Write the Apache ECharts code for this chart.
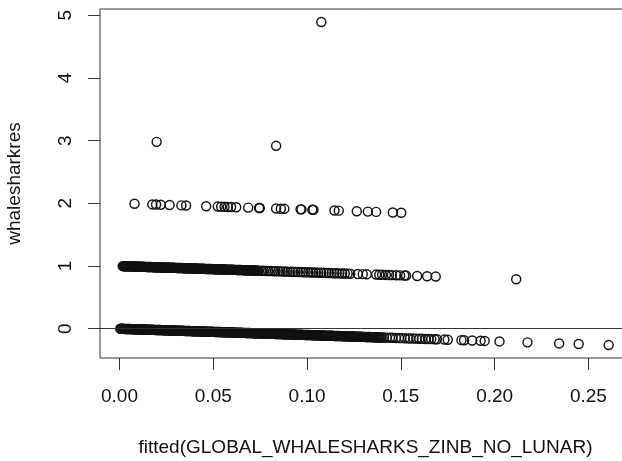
<!DOCTYPE html>
<html><head><meta charset="utf-8">
<script src="https://cdn.jsdelivr.net/npm/echarts@6/dist/echarts.min.js"></script>
<style>html,body{margin:0;padding:0;background:#fff}#c{width:622px;height:461px}</style>
</head><body><div id="c"></div>
<script>
// observed = 0
const zeroFitted=[0.0004,0.0011,0.0018,0.0026,0.0033,0.0041,0.0049,0.0057,0.0064,0.0072,0.0081,0.0089,0.0098,0.0106,0.0115,0.0123,0.0132,0.0140,0.0149,0.0157,0.0166,0.0175,0.0183,0.0192,0.0201,0.0210,0.0218,0.0227,0.0236,0.0245,0.0254,0.0262,0.0271,0.0280,0.0289,0.0298,0.0307,0.0316,0.0325,0.0334,0.0343,0.0352,0.0361,0.0370,0.0380,0.0389,0.0398,0.0407,0.0416,0.0426,0.0435,0.0444,0.0454,0.0463,0.0472,0.0482,0.0491,0.0501,0.0510,0.0520,0.0529,0.0539,0.0548,0.0558,0.0567,0.0577,0.0587,0.0596,0.0606,0.0616,0.0625,0.0635,0.0645,0.0655,0.0664,0.0674,0.0684,0.0694,0.0704,0.0714,0.0724,0.0733,0.0743,0.0753,0.0763,0.0773,0.0783,0.0793,0.0804,0.0814,0.0824,0.0834,0.0844,0.0854,0.0864,0.0875,0.0885,0.0895,0.0905,0.0916,0.0926,0.0936,0.0947,0.0957,0.0967,0.0978,0.0988,0.0999,0.1009,0.1020,0.1030,0.1041,0.1051,0.1062,0.1072,0.1083,0.1093,0.1104,0.1115,0.1125,0.1136,0.1147,0.1157,0.1168,0.1179,0.1190,0.1200,0.1211,0.1222,0.1233,0.1244,0.1255,0.1265,0.1276,0.1287,0.1298,0.1309,0.1320,0.1331,0.1342,0.1353,0.1364,0.1375,0.1386,0.1397,
0.1410,0.1425,0.1442,0.1455,0.1473,0.1490,0.1502,0.1521,0.1538,0.1549,0.1567,0.1583,0.1598,0.1612,0.1631,0.1648,0.1662,0.1680,0.1693,
0.1732,0.1750,0.1823,0.1837,0.1880,0.1925,0.1947,0.2026,0.2175,0.2344,0.2448,0.2608];
const zeroResid=[-0.0004,-0.0011,-0.0018,-0.0026,-0.0033,-0.0041,-0.0049,-0.0057,-0.0064,-0.0072,-0.0081,-0.0089,-0.0098,-0.0106,-0.0115,-0.0123,-0.0132,-0.0140,-0.0149,-0.0157,-0.0166,-0.0175,-0.0183,-0.0192,-0.0201,-0.0210,-0.0218,-0.0227,-0.0236,-0.0245,-0.0254,-0.0262,-0.0271,-0.0280,-0.0289,-0.0298,-0.0307,-0.0316,-0.0325,-0.0334,-0.0343,-0.0352,-0.0361,-0.0370,-0.0380,-0.0389,-0.0398,-0.0407,-0.0416,-0.0426,-0.0435,-0.0444,-0.0454,-0.0463,-0.0472,-0.0482,-0.0491,-0.0501,-0.0510,-0.0520,-0.0529,-0.0539,-0.0548,-0.0558,-0.0567,-0.0577,-0.0587,-0.0596,-0.0606,-0.0616,-0.0625,-0.0635,-0.0645,-0.0655,-0.0664,-0.0674,-0.0684,-0.0694,-0.0704,-0.0714,-0.0724,-0.0733,-0.0743,-0.0753,-0.0763,-0.0773,-0.0783,-0.0793,-0.0804,-0.0814,-0.0824,-0.0834,-0.0844,-0.0854,-0.0864,-0.0875,-0.0885,-0.0895,-0.0905,-0.0916,-0.0926,-0.0936,-0.0947,-0.0957,-0.0967,-0.0978,-0.0988,-0.0999,-0.1009,-0.1020,-0.1030,-0.1041,-0.1051,-0.1062,-0.1072,-0.1083,-0.1093,-0.1104,-0.1115,-0.1125,-0.1136,-0.1147,-0.1157,-0.1168,-0.1179,-0.1190,-0.1200,-0.1211,-0.1222,-0.1233,-0.1244,-0.1255,-0.1265,-0.1276,-0.1287,-0.1298,-0.1309,-0.1320,-0.1331,-0.1342,-0.1353,-0.1364,-0.1375,-0.1386,-0.1397,
-0.1410,-0.1425,-0.1442,-0.1455,-0.1473,-0.1490,-0.1502,-0.1521,-0.1538,-0.1549,-0.1567,-0.1583,-0.1598,-0.1612,-0.1631,-0.1648,-0.1662,-0.1680,-0.1693,
-0.1732,-0.1750,-0.1823,-0.1837,-0.1880,-0.1925,-0.1947,-0.2026,-0.2175,-0.2344,-0.2448,-0.2608];
// further observed = 0 points packed into the dense part of the band
const zeroFittedB=[0.0008,0.0015,0.0022,0.0030,0.0037,0.0045,0.0053,0.0061,0.0068,0.0077,0.0085,0.0094,0.0102,0.0111,0.0119,0.0128,0.0136,0.0145,0.0153,0.0162,0.0171,0.0179,0.0188,0.0197,0.0206,0.0214,0.0223,0.0232,0.0241,0.0250,0.0258,0.0267,0.0276,0.0285,0.0294,0.0303,0.0312,0.0321,0.0330,0.0339,0.0348,0.0357,0.0366,0.0375,0.0385,0.0394,0.0403,0.0412,0.0421,0.0431,0.0440,0.0449,0.0459,0.0468,0.0477,0.0487,0.0496,0.0506,0.0515,0.0525,0.0534,0.0544,0.0553,0.0563,0.0572,0.0582,0.0592,0.0601,0.0611,0.0621,0.0630,0.0640,0.0650,0.0660,0.0669,0.0679,0.0689,0.0699,0.0709,0.0719,0.0729,0.0738,0.0748,0.0758,0.0768,0.0778,0.0788,0.0799,0.0809,0.0819,0.0829,0.0839,0.0849,0.0859,0.0870,0.0880,0.0890,0.0900,0.0911,0.0921,0.0931,0.0942,0.0952,0.0962,0.0973,0.0983,0.0994,0.1004,0.1015,0.1025,0.1036,0.1046,0.1057,0.1067,0.1078,0.1088,0.1099,0.1110,0.1120,0.1131,0.1142,0.1152,0.1163,0.1174,0.1185,0.1195,0.1206,0.1217,0.1228,0.1239,0.1250,0.1260,0.1271,0.1282,0.1293,0.1304,0.1315,0.1326,0.1337,0.1348,0.1359,0.1370,0.1381,0.1392];
const zeroResidB=[-0.0008,-0.0015,-0.0022,-0.0030,-0.0037,-0.0045,-0.0053,-0.0061,-0.0068,-0.0077,-0.0085,-0.0094,-0.0102,-0.0111,-0.0119,-0.0128,-0.0136,-0.0145,-0.0153,-0.0162,-0.0171,-0.0179,-0.0188,-0.0197,-0.0206,-0.0214,-0.0223,-0.0232,-0.0241,-0.0250,-0.0258,-0.0267,-0.0276,-0.0285,-0.0294,-0.0303,-0.0312,-0.0321,-0.0330,-0.0339,-0.0348,-0.0357,-0.0366,-0.0375,-0.0385,-0.0394,-0.0403,-0.0412,-0.0421,-0.0431,-0.0440,-0.0449,-0.0459,-0.0468,-0.0477,-0.0487,-0.0496,-0.0506,-0.0515,-0.0525,-0.0534,-0.0544,-0.0553,-0.0563,-0.0572,-0.0582,-0.0592,-0.0601,-0.0611,-0.0621,-0.0630,-0.0640,-0.0650,-0.0660,-0.0669,-0.0679,-0.0689,-0.0699,-0.0709,-0.0719,-0.0729,-0.0738,-0.0748,-0.0758,-0.0768,-0.0778,-0.0788,-0.0799,-0.0809,-0.0819,-0.0829,-0.0839,-0.0849,-0.0859,-0.0870,-0.0880,-0.0890,-0.0900,-0.0911,-0.0921,-0.0931,-0.0942,-0.0952,-0.0962,-0.0973,-0.0983,-0.0994,-0.1004,-0.1015,-0.1025,-0.1036,-0.1046,-0.1057,-0.1067,-0.1078,-0.1088,-0.1099,-0.1110,-0.1120,-0.1131,-0.1142,-0.1152,-0.1163,-0.1174,-0.1185,-0.1195,-0.1206,-0.1217,-0.1228,-0.1239,-0.1250,-0.1260,-0.1271,-0.1282,-0.1293,-0.1304,-0.1315,-0.1326,-0.1337,-0.1348,-0.1359,-0.1370,-0.1381,-0.1392];
// observed = 1
const oneFitted=[0.0017,0.0025,0.0033,0.0041,0.0049,0.0058,0.0066,0.0074,0.0083,0.0091,0.0100,0.0108,0.0117,0.0126,0.0134,0.0143,0.0152,0.0160,0.0169,0.0178,0.0187,0.0196,0.0205,0.0214,0.0223,0.0232,0.0241,0.0250,0.0259,0.0268,0.0277,0.0286,0.0296,0.0305,0.0314,0.0323,0.0333,0.0342,0.0351,0.0361,0.0370,0.0379,0.0389,0.0398,0.0408,0.0417,0.0427,0.0436,0.0446,0.0455,0.0465,0.0475,0.0484,0.0494,0.0504,0.0513,0.0523,0.0533,0.0543,0.0552,0.0562,0.0572,0.0582,0.0592,0.0602,0.0612,0.0622,0.0632,0.0642,0.0652,0.0662,0.0672,0.0682,0.0692,0.0702,0.0712,0.0722,0.0733,0.0743,
0.0756,0.0768,0.0781,0.0793,0.0806,0.0819,0.0831,0.0846,0.0858,0.0871,0.0885,0.0897,0.0912,0.0925,0.0938,0.0951,0.0966,0.0979,0.0992,0.1006,0.1020,0.1033,0.1047,0.1060,0.1075,0.1088,0.1103,0.1116,0.1131,0.1145,0.1158,0.1172,0.1187,0.1201,0.1216,0.1230,
0.1270,0.1297,0.1318,0.1368,0.1385,0.1400,0.1420,0.1437,0.1452,0.1475,0.1496,0.1519,0.1528,0.1587,0.1640,0.1686,0.2115];
const oneResid=[0.9983,0.9975,0.9967,0.9959,0.9951,0.9942,0.9934,0.9926,0.9917,0.9909,0.9900,0.9892,0.9883,0.9874,0.9866,0.9857,0.9848,0.9840,0.9831,0.9822,0.9813,0.9804,0.9795,0.9786,0.9777,0.9768,0.9759,0.9750,0.9741,0.9732,0.9723,0.9714,0.9704,0.9695,0.9686,0.9677,0.9667,0.9658,0.9649,0.9639,0.9630,0.9621,0.9611,0.9602,0.9592,0.9583,0.9573,0.9564,0.9554,0.9545,0.9535,0.9525,0.9516,0.9506,0.9496,0.9487,0.9477,0.9467,0.9457,0.9448,0.9438,0.9428,0.9418,0.9408,0.9398,0.9388,0.9378,0.9368,0.9358,0.9348,0.9338,0.9328,0.9318,0.9308,0.9298,0.9288,0.9278,0.9267,0.9257,
0.9244,0.9232,0.9219,0.9207,0.9194,0.9181,0.9169,0.9154,0.9142,0.9129,0.9115,0.9103,0.9088,0.9075,0.9062,0.9049,0.9034,0.9021,0.9008,0.8994,0.8980,0.8967,0.8953,0.8940,0.8925,0.8912,0.8897,0.8884,0.8869,0.8855,0.8842,0.8828,0.8813,0.8799,0.8784,0.8770,
0.8730,0.8703,0.8682,0.8632,0.8615,0.8600,0.8580,0.8563,0.8548,0.8525,0.8504,0.8481,0.8472,0.8413,0.8360,0.8314,0.7885];
// further observed = 1 points packed into the dense part of the band
const oneFittedB=[0.0021,0.0029,0.0037,0.0045,0.0054,0.0062,0.0070,0.0079,0.0087,0.0096,0.0104,0.0113,0.0121,0.0130,0.0139,0.0147,0.0156,0.0165,0.0173,0.0182,0.0191,0.0200,0.0209,0.0218,0.0227,0.0236,0.0245,0.0254,0.0263,0.0272,0.0281,0.0291,0.0300,0.0309,0.0318,0.0328,0.0337,0.0346,0.0356,0.0365,0.0374,0.0384,0.0393,0.0403,0.0412,0.0422,0.0431,0.0441,0.0450,0.0460,0.0470,0.0479,0.0489,0.0499,0.0508,0.0518,0.0528,0.0538,0.0547,0.0557,0.0567,0.0577,0.0587,0.0597,0.0607,0.0617,0.0627,0.0637,0.0647,0.0657,0.0667,0.0677,0.0687,0.0697,0.0707,0.0717,0.0727,0.0738];
const oneResidB=[0.9979,0.9971,0.9963,0.9955,0.9946,0.9938,0.9930,0.9921,0.9913,0.9904,0.9896,0.9887,0.9879,0.9870,0.9861,0.9853,0.9844,0.9835,0.9827,0.9818,0.9809,0.9800,0.9791,0.9782,0.9773,0.9764,0.9755,0.9746,0.9737,0.9728,0.9719,0.9709,0.9700,0.9691,0.9682,0.9672,0.9663,0.9654,0.9644,0.9635,0.9626,0.9616,0.9607,0.9597,0.9588,0.9578,0.9569,0.9559,0.9550,0.9540,0.9530,0.9521,0.9511,0.9501,0.9492,0.9482,0.9472,0.9462,0.9453,0.9443,0.9433,0.9423,0.9413,0.9403,0.9393,0.9383,0.9373,0.9363,0.9353,0.9343,0.9333,0.9323,0.9313,0.9303,0.9293,0.9283,0.9273,0.9262];
// observed = 2
const twoFitted=[0.0080,0.0175,0.0195,0.0220,0.0267,0.0330,0.0355,0.0462,0.0524,0.0542,0.0560,0.0577,0.0595,0.0622,0.0686,0.0744,0.0748,0.0835,0.0860,0.0879,0.0965,0.0970,0.1028,0.1034,0.1146,0.1169,0.1265,0.1324,0.1368,0.1457,0.1502];
const twoResid=[1.9920,1.9825,1.9805,1.9780,1.9733,1.9670,1.9645,1.9538,1.9476,1.9458,1.9440,1.9423,1.9405,1.9378,1.9314,1.9256,1.9252,1.9165,1.9140,1.9121,1.9035,1.9030,1.8972,1.8966,1.8854,1.8831,1.8735,1.8676,1.8632,1.8543,1.8498];
// observed = 3 and 5
const threeFitted=[0.0198,0.0835];
const threeResid=[2.9802,2.9165];
const fiveFitted=[0.1076];
const fiveResid=[4.8924];

const xTicks=[0,0.05,0.10,0.15,0.20,0.25];
const xTickLabels=['0.00','0.05','0.10','0.15','0.20','0.25'];
const yTicks=[0,1,2,3,4,5];
const yTickLabels=['0','1','2','3','4','5'];
const xTitle='fitted(GLOBAL_WHALESHARKS_ZINB_NO_LUNAR)';
const yTitle='whalesharkres';

function zip(a,b){return a.map((v,i)=>[v,b[i]]);}
function lab(ticks,labels){return v=>{const i=ticks.findIndex(t=>Math.abs(t-v)<1e-9);return i<0?'':labels[i];};}

const font='"Liberation Sans", Arial, Helvetica, sans-serif';
const lineCol='#333';
const txtCol='#111';
const ptStyle={color:'rgba(0,0,0,0)',borderColor:'#111',borderWidth:1.45,opacity:1};
function sc(name,x,y){return {name:name,type:'scatter',symbol:'circle',symbolSize:9,itemStyle:ptStyle,silent:true,data:zip(x,y)};}

const s0=sc('0',zeroFitted,zeroResid);
s0.markLine={silent:true,symbol:['none','none'],label:{show:false},lineStyle:{color:lineCol,width:1,type:'solid'},data:[{yAxis:0}],animation:false};

const chart=echarts.init(document.getElementById('c'),null,{renderer:'canvas'});
chart.setOption({
  animation:false,
  backgroundColor:'#fff',
  grid:{left:100,top:9,right:-9,bottom:103,show:true,borderColor:lineCol,borderWidth:1,backgroundColor:'transparent',containLabel:false,outerBoundsMode:'none'},
  xAxis:{type:'value',min:-0.0104,max:0.2727,
    axisLine:{show:false,onZero:false},splitLine:{show:false},
    axisTick:{show:true,inside:false,length:12,customValues:xTicks,lineStyle:{color:lineCol,width:1}},
    axisLabel:{customValues:xTicks,formatter:lab(xTicks,xTickLabels),margin:29,fontSize:19,fontFamily:font,color:txtCol},
    name:xTitle,nameLocation:'middle',nameGap:80,nameTextStyle:{fontSize:19,fontFamily:font,color:txtCol}},
  yAxis:{type:'value',min:-0.467,max:5.099,
    axisLine:{show:false,onZero:false},splitLine:{show:false},
    axisTick:{show:true,inside:false,length:12,customValues:yTicks,lineStyle:{color:lineCol,width:1}},
    axisLabel:{customValues:yTicks,formatter:lab(yTicks,yTickLabels),rotate:90,margin:25,fontSize:19,fontFamily:font,color:txtCol},
    name:yTitle,nameLocation:'middle',nameGap:76,nameRotate:90,nameTextStyle:{fontSize:19,fontFamily:font,color:txtCol}},
  series:[s0,sc('0b',zeroFittedB,zeroResidB),sc('1',oneFitted,oneResid),sc('1b',oneFittedB,oneResidB),sc('2',twoFitted,twoResid),sc('3',threeFitted,threeResid),sc('5',fiveFitted,fiveResid)]
});
</script></body></html>
